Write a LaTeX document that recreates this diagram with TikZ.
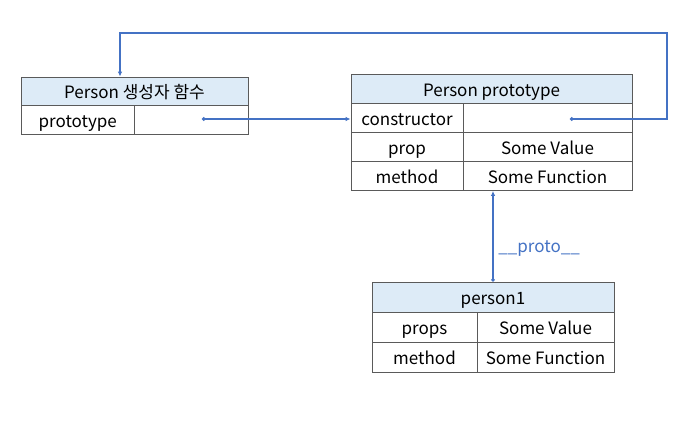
\documentclass[tikz,border=0pt]{standalone}
\usepackage{fontspec}
\setmainfont{Noto Sans CJK KR}
\definecolor{linkblue}{HTML}{4472C4}
\definecolor{headfill}{HTML}{DDEBF7}
\definecolor{cellline}{HTML}{5A5A5A}
\usetikzlibrary{arrows.meta, positioning, calc}

\begin{document}
\begin{tikzpicture}[x=1pt, y=-1pt,
	every node/.append style={shape=rectangle,
		draw=cellline, line width=0.8pt, inner sep=0pt,
		text height=16pt, text depth=1pt,
		font=\fontsize{17}{20}\selectfont},
	head/.style={fill=headfill},
	link/.style={draw=linkblue, line width=1.4pt,
		{Circle[length=3.5pt]}-{Latex[length=5pt,width=4.5pt]}}]

	\useasboundingbox (0,0) rectangle (692,424);

	% Person constructor function
	\node[head, minimum width=227pt, minimum height=28.5pt] at (134.5, 91.25) (fnHead){Person 생성자 함수};
	\node[minimum width=113.5pt, minimum height=28.5pt] at (77.75, 119.75) (fnKey){prototype};
	\node[minimum width=113.5pt, minimum height=28.5pt] at (191.25, 119.75) (fnVal){};

	% Person prototype
	\node[head, minimum width=281pt, minimum height=29pt] at (491.5, 89) (ptHead){Person prototype};
	\node[minimum width=112pt, minimum height=29pt] at (407, 118) (ptCtorKey){constructor};
	\node[minimum width=169pt, minimum height=29pt] at (547.5, 118) (ptCtorVal){};
	\node[minimum width=112pt, minimum height=29pt] at (407, 147) (ptPropKey){prop};
	\node[minimum width=169pt, minimum height=29pt] at (547.5, 147) (ptPropVal){Some Value};
	\node[minimum width=112pt, minimum height=29pt] at (407, 176) (ptMethKey){method};
	\node[minimum width=169pt, minimum height=29pt] at (547.5, 176) (ptMethVal){Some Function};

	% person1
	\node[head, minimum width=242pt, minimum height=30pt] at (493, 297) (p1Head){person1};
	\node[minimum width=105pt, minimum height=30pt] at (424.5, 327) (p1PropKey){props};
	\node[minimum width=137pt, minimum height=30pt] at (545.5, 327) (p1PropVal){Some Value};
	\node[minimum width=105pt, minimum height=30pt] at (424.5, 357) (p1MethKey){method};
	\node[minimum width=137pt, minimum height=30pt] at (545.5, 357) (p1MethVal){Some Function};

	\coordinate (fnDot) at (202, 119);
	\coordinate (ctorDot) at (570, 119);
	\coordinate (turnR) at (667, 33);
	\coordinate (turnL) at (120, 33);

	\draw[link] (fnDot) -- (fnDot -| ptCtorKey.west);
	\draw[link] (ctorDot) -| (turnR) -- (turnL) -- (turnL |- fnHead.north);
	\draw[link] (p1Head.north) -- (p1Head.north |- ptMethVal.south)
		node[pos=0.4, right=5pt, draw=none, text=linkblue]{\_\_proto\_\_};
\end{tikzpicture}
\end{document}
